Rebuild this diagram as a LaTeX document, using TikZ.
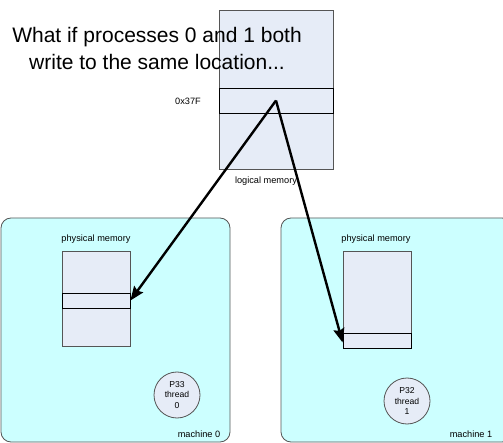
\documentclass[tikz,border=0pt]{standalone}
\usepackage{fontspec}
\setmainfont{Liberation Sans}
\usetikzlibrary{arrows.meta}
\definecolor{memfill}{HTML}{E6ECF7}
\definecolor{machfill}{HTML}{CCFFFF}
\definecolor{edgegray}{HTML}{555555}
\tikzset{
  machine/.style={draw=edgegray, fill=machfill, rounded corners=10pt, line width=0.8pt},
  memblock/.style={draw=edgegray, fill=memfill, line width=0.8pt, inner sep=0pt},
  memslot/.style={draw=black, fill=memfill, line width=0.8pt, inner sep=0pt},
  smalltext/.style={font=\fontsize{9.2}{11}\selectfont, inner sep=0pt},
  proc/.style={circle, draw=edgegray, fill=memfill, line width=0.8pt, minimum size=46pt, inner sep=0pt, align=center, font=\fontsize{8.6}{10.5}\selectfont},
  mapping/.style={line width=2.4pt, -{Stealth[length=14pt,width=11pt,inset=2pt]}},
}
\begin{document}
\begin{tikzpicture}[x=1pt, y=-1pt]
\useasboundingbox (0,0) rectangle (503,443);

% machines
\draw[machine] (1,218) rectangle (230,442);
\draw[machine] (281,218) rectangle (512,442);

% logical memory with the shared location
\node[memblock, minimum width=114pt, minimum height=159pt] (logical) at (276,89.5) {};
\node[memslot, minimum width=114pt, minimum height=25pt] (lslot) at (276,100.5) {};
\node[smalltext] (addr) at (188,101) {0x37F};
\node[smalltext] (llabel) at (266,181) {logical memory};

% heading
\node[font=\fontsize{21}{27}\selectfont, align=center, inner sep=0pt] (title) at (157,48)
  {What if processes 0 and 1 both\\write to the same location...};

% machine 0
\node[smalltext] (plabel0) at (96,239) {physical memory};
\node[memblock, minimum width=68pt, minimum height=95pt] (phys0) at (96,298.5) {};
\node[memslot, minimum width=68pt, minimum height=15pt] (pslot0) at (96,300.5) {};
\node[proc] (p33) at (177,395) {P33\\thread\\0};
\node[smalltext] (m0) at (199,434) {machine 0};

% machine 1
\node[smalltext] (plabel1) at (376,239) {physical memory};
\node[memblock, minimum width=68pt, minimum height=97pt] (phys1) at (377,299.5) {};
\node[memslot, minimum width=68pt, minimum height=15pt] (pslot1) at (377,340.5) {};
\node[proc] (p32) at (407,401) {P32\\thread\\1};
\node[smalltext] (m1) at (471,434) {machine 1};

% address mappings
\draw[mapping] (lslot.center) -- (pslot0.east);
\draw[mapping] (lslot.center) -- ([yshift=-2pt]pslot1.west);
\end{tikzpicture}
\end{document}
